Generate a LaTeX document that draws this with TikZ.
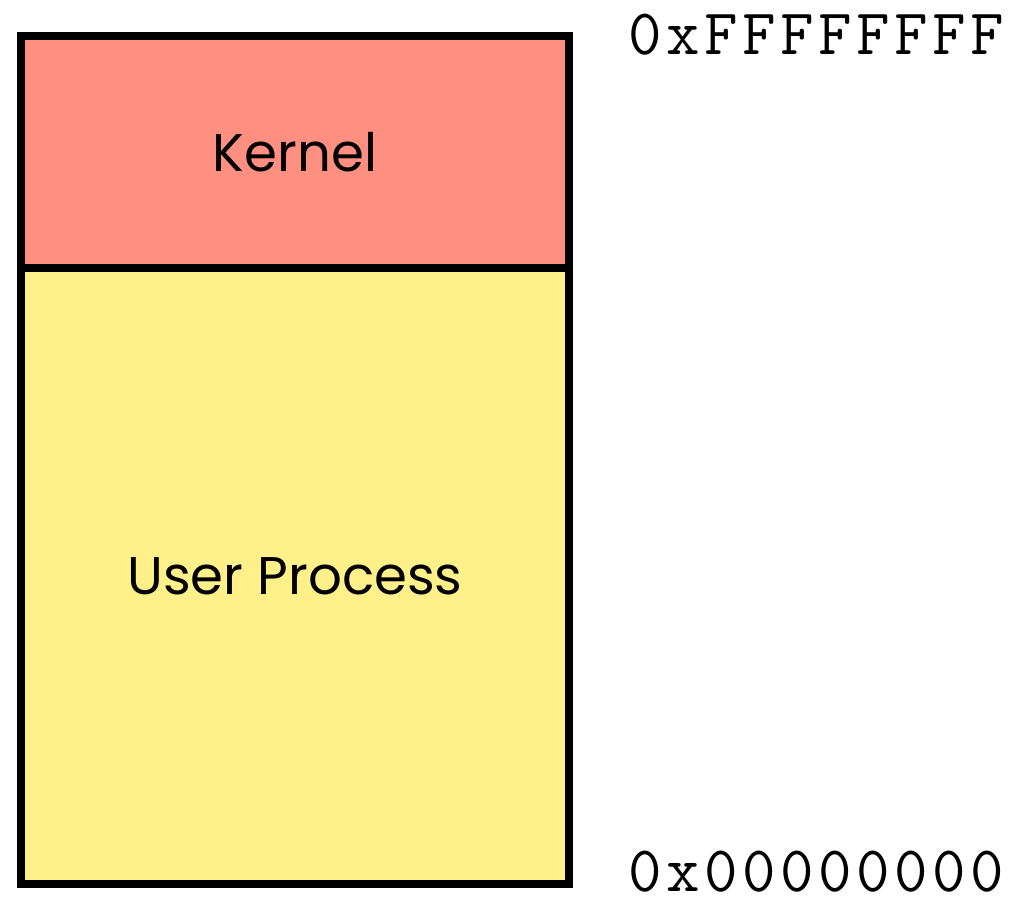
\documentclass[tikz,border=0pt]{standalone}
\usepackage{fontspec}
\setmainfont{Poppins}
\setmonofont[LetterSpace=7]{Latin Modern Mono}
\definecolor{kernelred}{RGB}{255,143,128}
\definecolor{useryellow}{RGB}{255,240,138}
\begin{document}
\begin{tikzpicture}[x=1pt,y=1pt,
  region/.style={draw=black,line width=8pt,line join=miter},
  label/.style={font=\fontsize{53}{58}\selectfont,text=black},
  addr/.style={font=\ttfamily\fontsize{65}{65}\selectfont,anchor=base west,inner sep=0pt}]
  \useasboundingbox (0,0) rectangle (1011,897);
  % memory regions
  \draw[region,fill=kernelred] (21,629) rectangle (569,861);
  \draw[region,fill=useryellow] (21,13) rectangle (569,629);
  \node[label] (kernel) at (295,745) {Kernel};
  \node[label] (user) at (295,321) {User Process};
  % address bounds
  \node[addr] (top) at (628,842) {0xFFFFFFFF};
  \node[addr] (bottom) at (628,6) {0x00000000};
\end{tikzpicture}
\end{document}
